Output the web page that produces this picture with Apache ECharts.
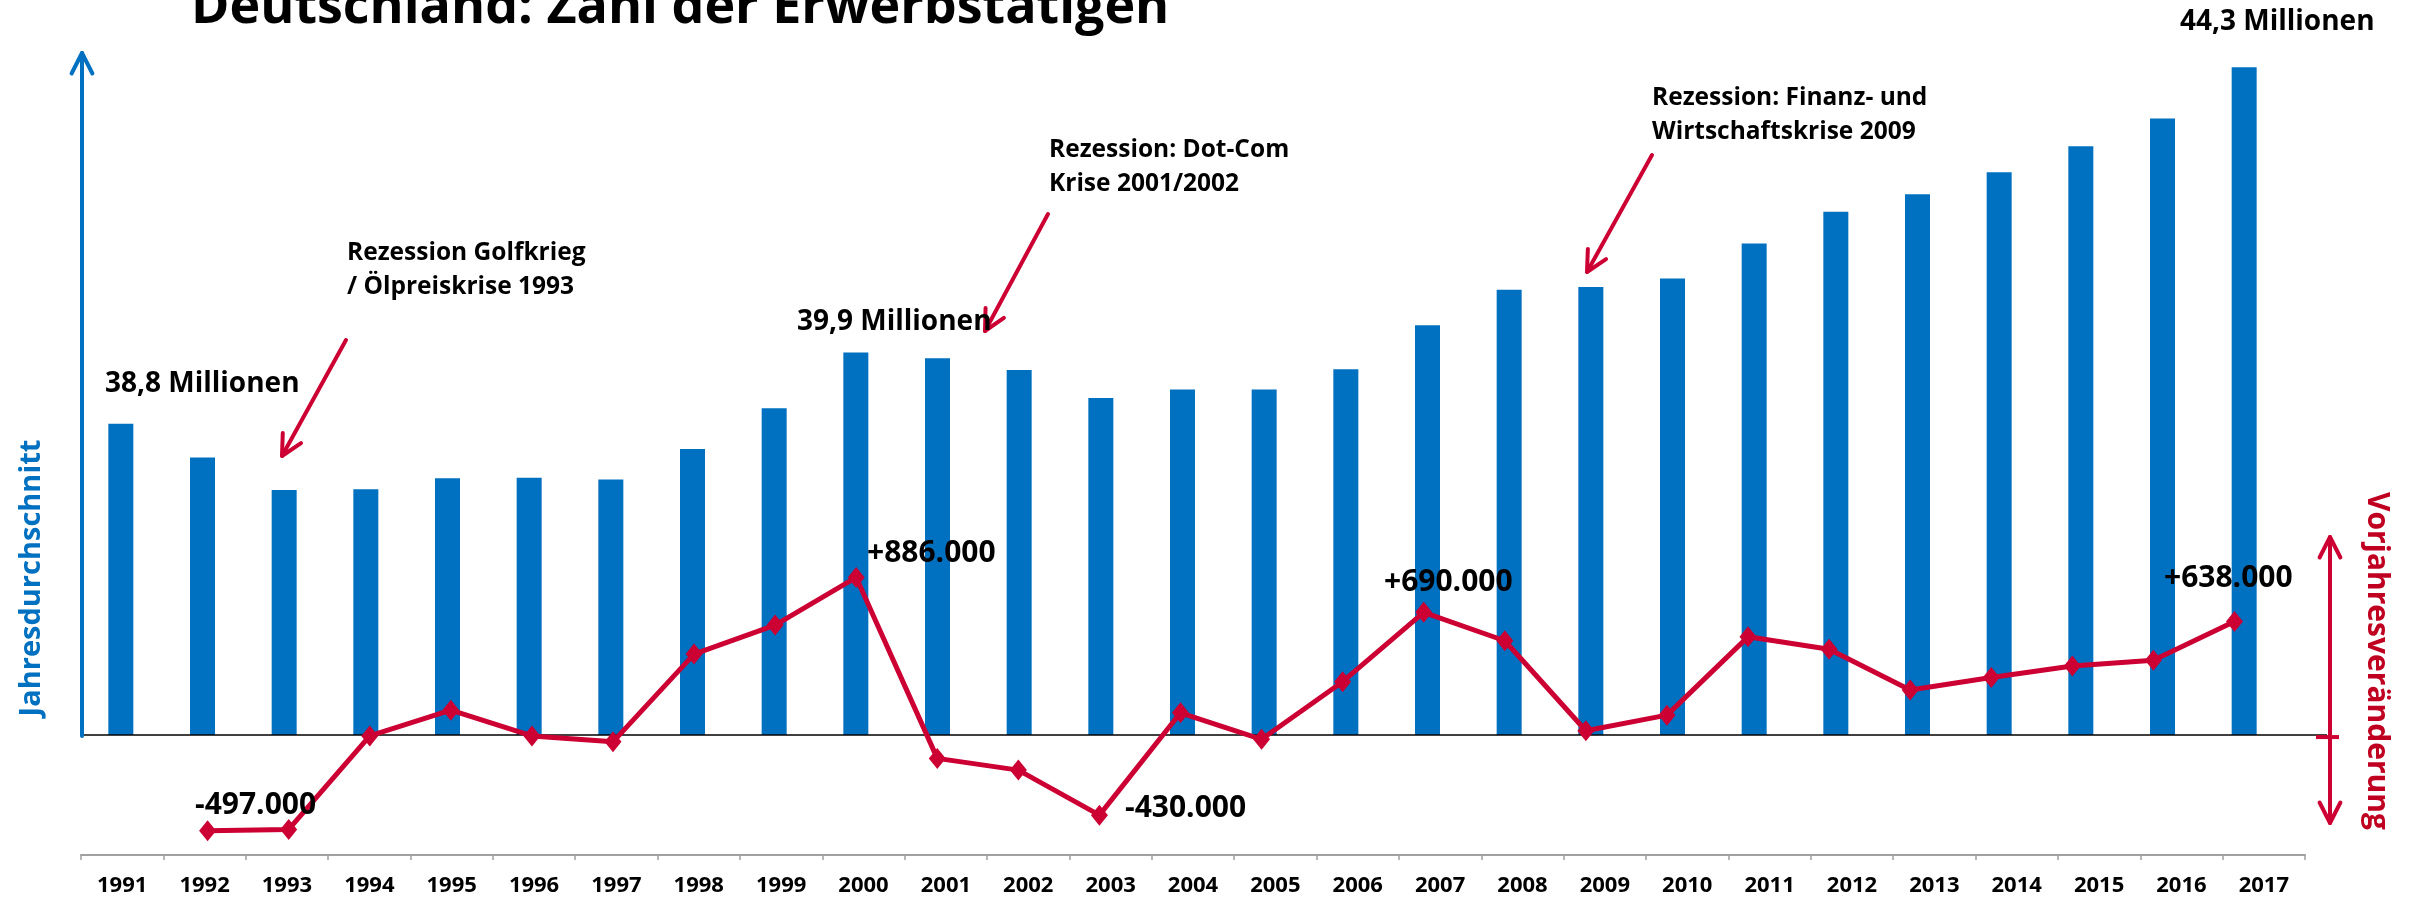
<!DOCTYPE html>
<html>
<head>
<meta charset="utf-8">
<title>Deutschland: Zahl der Erwerbstätigen</title>
<script src="https://cdn.jsdelivr.net/npm/echarts@6/dist/echarts.min.js"></script>
<style>
  html, body { margin: 0; padding: 0; background: #fff; }
  #main { width: 2426px; height: 898px; }
</style>
</head>
<body>
<div id="main"></div>
<script>
// Jahre
const years = ['1991', '1992', '1993', '1994', '1995', '1996', '1997', '1998', '1999', '2000',
  '2001', '2002', '2003', '2004', '2005', '2006', '2007', '2008', '2009', '2010',
  '2011', '2012', '2013', '2014', '2015', '2016', '2017'];
// Erwerbstätige im Jahresdurchschnitt (Millionen)
const employed = [38.8, 38.28, 37.78, 37.79, 37.96, 37.97, 37.94, 38.41, 39.04, 39.9,
  39.81, 39.63, 39.2, 39.33, 39.33, 39.64, 40.32, 40.87, 40.91, 41.04,
  41.58, 42.07, 42.34, 42.68, 43.08, 43.51, 44.3];
// Veränderung zum Vorjahr (Tausend)
const change = [null, -538, -530, -5, 140, -5, -38, 455, 618, 886,
  -131, -197, -450, 125, -24, 300, 690, 530, 24, 112,
  552, 482, 253, 324, 388, 421, 638];
// Beschriftungen
const levelLabels = ['38,8 Millionen', '39,9 Millionen', '44,3 Millionen'];
const changeLabels = ['-497.000', '+886.000', '-430.000', '+690.000', '+638.000'];
const notes = ['Rezession Golfkrieg\n/ Ölpreiskrise 1993', 'Rezession: Dot-Com\nKrise 2001/2002',
  'Rezession: Finanz- und\nWirtschaftskrise 2009'];

const BLUE = '#0070c0';
const RED = '#cc0033';
const FONT = "'Open Sans', sans-serif";

var chart = echarts.init(document.getElementById('main'));

var option = {
  animation: false,
  textStyle: { fontFamily: FONT },
  grid: [
    { left: 80, right: 141, top: 53, bottom: 163 },   // Balken
    { left: 86, right: 151, top: 53, bottom: 43 },    // Linie
    { left: 81, right: 121, top: 53, bottom: 43 }     // Achse
  ],
  xAxis: [
    { type: 'category', gridIndex: 0, data: years, show: false },
    { type: 'category', gridIndex: 1, data: years, show: false },
    {
      type: 'category', gridIndex: 2, data: years,
      axisLine: { lineStyle: { color: '#a0a0a0', width: 2 } },
      axisTick: { show: true, length: 5, lineStyle: { color: '#a0a0a0', width: 1.5 } },
      axisLabel: { interval: 0, margin: 20, color: '#000', fontSize: 22, fontWeight: 'bold', fontFamily: FONT }
    }
  ],
  yAxis: [
    { type: 'value', gridIndex: 0, min: 34, max: 44.52, show: false },
    { type: 'value', gridIndex: 1, min: -674, max: 3833, show: false },
    { type: 'value', gridIndex: 2, min: 0, max: 1, show: false }
  ],
  series: [
    {
      name: 'Jahresdurchschnitt',
      type: 'bar',
      xAxisIndex: 0,
      yAxisIndex: 0,
      data: employed,
      barWidth: 25,
      z: 1,
      itemStyle: { color: BLUE },
      emphasis: { disabled: true }
    },
    {
      name: 'Vorjahresveränderung',
      type: 'line',
      xAxisIndex: 1,
      yAxisIndex: 1,
      data: change,
      z: 3,
      symbol: 'diamond',
      symbolSize: [17, 21],
      showAllSymbol: true,
      lineStyle: { color: RED, width: 5 },
      itemStyle: { color: RED },
      emphasis: { disabled: true }
    }
  ]
};
chart.setOption(option);

// Pfeil mit offener Spitze
function headAt(tx, ty, fx, fy, color) {
  var a = Math.atan2(fy - ty, fx - tx);
  var p = function (s) { return [tx + 23 * Math.cos(a + s), ty + 23 * Math.sin(a + s)]; };
  return {
    type: 'polyline', z: 10,
    shape: { points: [p(0.47), [tx, ty], p(-0.47)] },
    style: { stroke: color, lineWidth: 4, lineCap: 'round', lineJoin: 'round' }
  };
}
function arrow(x1, y1, x2, y2, color) {
  return [
    { type: 'line', z: 10, shape: { x1: x1, y1: y1, x2: x2, y2: y2 },
      style: { stroke: color, lineWidth: 4, lineCap: 'round' } },
    headAt(x2, y2, x1, y1, color)
  ];
}
function txt(x, y, text, size, weight) {
  return {
    type: 'text', z: 10, x: x, y: y,
    style: { text: text, fill: '#000', font: (weight || 'bold') + ' ' + size + 'px ' + FONT,
      textAlign: 'left', textVerticalAlign: 'middle', lineHeight: 34 }
  };
}

var zeroY = chart.convertToPixel({ yAxisIndex: 1 }, 0);
var topY = 53;
var elements = [];

// Grundlinie
elements.push({ type: 'line', z: 2, shape: { x1: 82, y1: zeroY, x2: 2327, y2: zeroY },
  style: { stroke: '#000', lineWidth: 1.5 } });
// blaue Achse
elements = elements.concat(arrow(82, zeroY + 1, 82, topY, BLUE));
// rote Doppelpfeil-Achse rechts
elements = elements.concat(arrow(2330, 700, 2330, 537, RED));
elements = elements.concat(arrow(2330, 700, 2330, 823, RED));
elements.push({ type: 'line', z: 10, shape: { x1: 2316, y1: zeroY + 2, x2: 2339, y2: zeroY + 2 },
  style: { stroke: RED, lineWidth: 4 } });
// Hinweis-Pfeile
elements = elements.concat(arrow(346, 340, 282, 456, RED));
elements = elements.concat(arrow(1048, 214, 985, 331, RED));
elements = elements.concat(arrow(1652, 155, 1587, 272, RED));

// Titel
elements.push(txt(191, 8, 'Deutschland: Zahl der Erwerbstätigen', 52));
// Niveaus
elements.push(txt(105, 384, levelLabels[0], 28));
elements.push(txt(797, 322, levelLabels[1], 28));
elements.push(txt(2180, 22, levelLabels[2], 28));
// Veränderungen
elements.push(txt(195, 805, changeLabels[0], 30));
elements.push(txt(867, 553, changeLabels[1], 30));
elements.push(txt(1125, 808, changeLabels[2], 30));
elements.push(txt(1384, 582, changeLabels[3], 30));
elements.push(txt(2164, 578, changeLabels[4], 30));
// Rezessionen
elements.push(txt(347, 270, notes[0], 24.5));
elements.push(txt(1049, 167, notes[1], 24.5));
elements.push(txt(1652, 115, notes[2], 24.5));
// Achsentitel
elements.push({ type: 'text', z: 10, x: 32, y: 578, rotation: Math.PI / 2,
  style: { text: 'Jahresdurchschnitt', fill: BLUE, font: 'bold 29px ' + FONT,
    textAlign: 'center', textVerticalAlign: 'middle' } });
elements.push({ type: 'text', z: 10, x: 2377, y: 661, rotation: -Math.PI / 2,
  style: { text: 'Vorjahresveränderung', fill: '#c00020', font: 'bold 30px ' + FONT,
    textAlign: 'center', textVerticalAlign: 'middle' } });

chart.setOption({ graphic: { elements: elements } });
</script>
</body>
</html>
